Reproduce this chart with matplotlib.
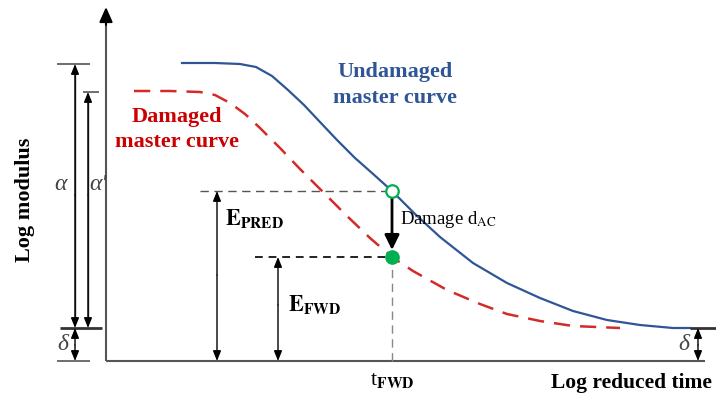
import matplotlib.pyplot as plt

plt.rcParams["font.family"] = ["Liberation Serif", "DejaVu Serif"]
plt.rcParams["mathtext.fontset"] = "stix"

# curve points (x: log reduced time, y: log modulus, px units)
undamaged_x = [182, 215, 240, 256, 272, 288, 304, 320, 337, 355, 372, 392,
               415, 440, 473, 507, 540, 573, 607, 640, 673, 690]
undamaged_y = [332, 332, 331, 328, 319, 305, 290, 273, 255, 237, 222, 204,
               181, 158, 132, 112, 97, 84, 75, 70, 67, 67]
damaged_x = [134, 170, 200, 215, 230, 245, 260, 280, 300, 322, 347, 370,
             392, 413, 447, 480, 507, 540, 573, 620]
damaged_y = [304, 304, 303, 300, 292, 281, 267, 247, 226, 204, 179, 157,
             138, 124, 105, 91, 81, 74, 69, 67]

t_fwd = 392
e_pred = 204      # undamaged modulus at t_fwd
e_fwd = 138       # damaged (FWD) modulus at t_fwd
base = 34         # x-axis level
lower_plateau = 67
upper_plateau = 331
upper_damaged = 303

BLUE = "#2f5597"
RED = "#d42a2a"
GREEN = "#00b050"
GRAY = "#555555"
SMALL_HEAD = "-|>,head_length=0.5,head_width=0.2"


def arrow(ax, x0, y0, x1, y1, color="black", lw=1.0, scale=12, style=SMALL_HEAD):
    ax.annotate("", xy=(x1, y1), xytext=(x0, y0),
                arrowprops=dict(arrowstyle=style, color=color, lw=lw,
                                mutation_scale=scale, shrinkA=0, shrinkB=0))


def line(ax, xs, ys, color=GRAY, lw=1.0, **kw):
    ax.plot(xs, ys, color=color, lw=lw, solid_capstyle="butt", **kw)


fig = plt.figure(figsize=(7.16, 3.95), dpi=100)
ax = fig.add_axes([0, 0, 1, 1])
ax.set_xlim(0, 716)
ax.set_ylim(0, 395)
ax.axis("off")

# axes
line(ax, [106, 106], [base, 375], lw=1.5)
line(ax, [106, 705], [base, base], lw=1.5)
arrow(ax, 106, 370, 106, 388, lw=1.5, scale=20, style="-|>,head_length=0.45,head_width=0.2")
arrow(ax, 700, base, 719, base, lw=1.5, scale=20, style="-|>,head_length=0.45,head_width=0.2")

# curves
ax.plot(undamaged_x, undamaged_y, color=BLUE, lw=1.6, solid_joinstyle="round")
ax.plot(damaged_x, damaged_y, color=RED, lw=1.8, linestyle=(0, (6.5, 4)),
        dash_joinstyle="round")

# left brackets
line(ax, [57, 90], [upper_plateau, upper_plateau], lw=1.2)
line(ax, [83, 99], [upper_damaged, upper_damaged], lw=1.2)
line(ax, [60, 102], [lower_plateau, lower_plateau], color="#333333", lw=2)
line(ax, [57, 90], [base, base], lw=1.2)
line(ax, [75, 75], [lower_plateau + 5, upper_plateau - 5], color="#333333")
line(ax, [88, 88], [lower_plateau + 5, upper_damaged - 5], color="#333333")
arrow(ax, 75, 200, 75, upper_plateau)
arrow(ax, 75, 200, 75, lower_plateau)
arrow(ax, 88, 200, 88, upper_damaged)
arrow(ax, 88, 200, 88, lower_plateau)
arrow(ax, 75, 50, 75, lower_plateau)
arrow(ax, 75, 50, 75, base)
greek = dict(fontsize=17, color="#444444", fontstyle="italic", ha="center", va="center")
ax.text(60, 210, "α", **greek)
ax.text(98, 210, "α′", **greek)
ax.text(63, 51, "δ", **greek)

# right delta
line(ax, [690, 716], [lower_plateau, lower_plateau], color="#333333", lw=2)
arrow(ax, 698, 50, 698, lower_plateau)
arrow(ax, 698, 50, 698, base)
ax.text(684, 51, "δ", **greek)

# E_PRED and E_FWD
line(ax, [200, t_fwd], [e_pred, e_pred], lw=1.0, linestyle=(0, (6, 4)))
line(ax, [255, t_fwd], [e_fwd, e_fwd], color="#222222", lw=1.4, linestyle=(0, (4, 3)))
line(ax, [t_fwd, t_fwd], [base, e_fwd], color="#888888", lw=1.0, linestyle=(0, (6, 4)))
arrow(ax, 217, 120, 217, e_pred)
arrow(ax, 217, 120, 217, base)
arrow(ax, 278, 90, 278, e_fwd)
arrow(ax, 278, 90, 278, base)
ax.text(225, 177, r"$\mathbf{E}_{\mathbf{PRED}}$", fontsize=16, va="center")
ax.text(288, 90, r"$\mathbf{E}_{\mathbf{FWD}}$", fontsize=16, va="center")

# damage arrow and points
arrow(ax, t_fwd, e_pred - 6, t_fwd, e_fwd + 7, lw=2, scale=20,
      style="-|>,head_length=0.45,head_width=0.22")
ax.plot([t_fwd], [e_pred], marker="o", ms=9, mfc="white", mec=GREEN, mew=1.6, zorder=5)
ax.plot([t_fwd], [e_fwd], marker="o", ms=9.5, mfc=GREEN, mec=GREEN, zorder=5)
ax.text(400, 175, r"Damage d$_{\mathrm{AC}}$", fontsize=13.5, va="center")

# labels
lab = dict(fontsize=16, fontweight="bold", ha="center", va="center")
ax.text(395, 323, "Undamaged", color=BLUE, **lab)
ax.text(395, 297, "master curve", color=BLUE, **lab)
ax.text(177, 278, "Damaged", color="#cc0000", **lab)
ax.text(177, 253, "master curve", color="#cc0000", **lab)
ax.text(25, 195, "Log modulus", rotation=90, **lab)
ax.text(712, 12, "Log reduced time", fontsize=15.5, fontweight="bold", ha="right", va="center")
ax.text(t_fwd, 14, r"t$_{\mathbf{FWD}}$", fontsize=16, ha="center", va="center")

fig.savefig("out.png", dpi=100)
